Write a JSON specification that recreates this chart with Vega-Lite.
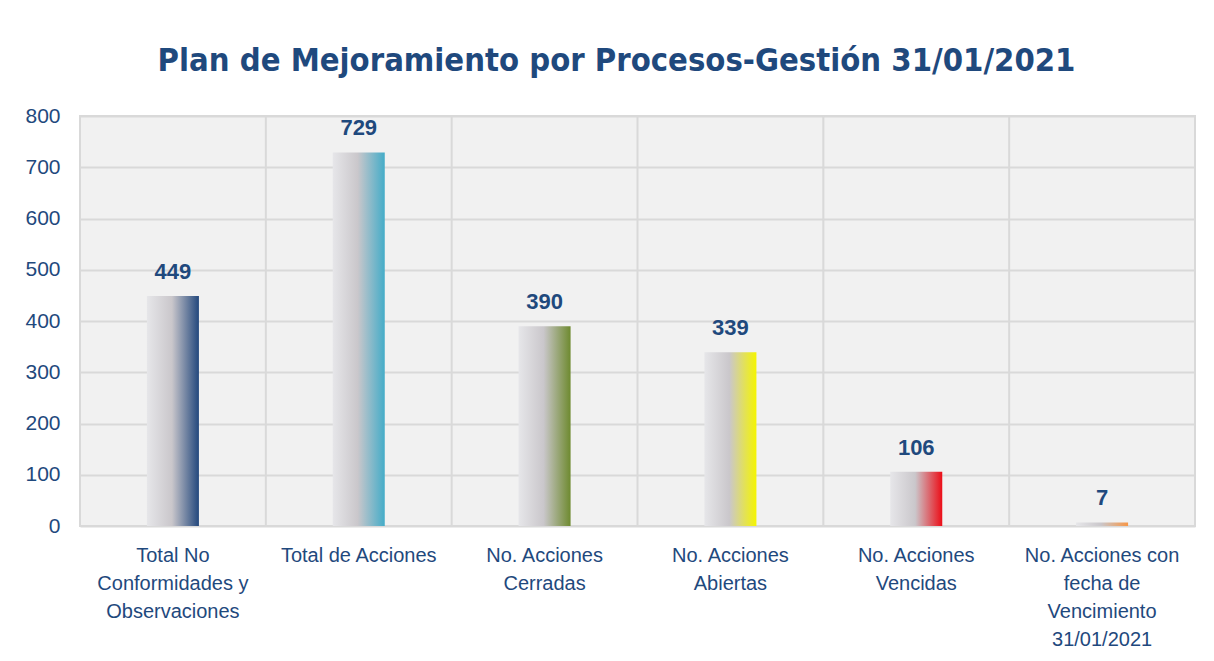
{
  "$schema": "https://vega.github.io/schema/vega-lite/v6.json",
  "width": 1115,
  "height": 410,
  "autosize": {"type": "none"},
  "padding": {"left": 80, "top": 116, "right": 19, "bottom": 135},
  "background": "white",
  "title": {
    "text": "Plan de Mejoramiento por Procesos-Gestión 31/01/2021",
    "font": "DejaVu Sans Condensed, Liberation Sans, sans-serif",
    "fontSize": 32.5,
    "fontWeight": "bold",
    "color": "#1f497d",
    "anchor": "middle",
    "frame": "group",
    "dx": -21,
    "offset": 28
  },
  "config": {
    "view": {"fill": "#f1f1f1", "stroke": "#d9d9d9", "strokeWidth": 2},
    "font": "Liberation Sans"
  },
  "data": {
    "values": [
      {"categoria": "Total No Conformidades y Observaciones", "valor": 449},
      {"categoria": "Total de Acciones", "valor": 729},
      {"categoria": "No. Acciones Cerradas", "valor": 390},
      {"categoria": "No. Acciones Abiertas", "valor": 339},
      {"categoria": "No. Acciones Vencidas", "valor": 106},
      {"categoria": "No. Acciones con fecha de Vencimiento 31/01/2021", "valor": 7}
    ]
  },
  "encoding": {
    "x": {
      "field": "categoria",
      "type": "nominal",
      "sort": null,
      "scale": {"paddingInner": 0, "paddingOuter": 0},
      "axis": {
        "title": null,
        "labelAngle": 0,
        "domain": false,
        "ticks": false,
        "grid": false,
        "labelFont": "Liberation Sans",
        "labelFontSize": 20,
        "labelColor": "#1f497d",
        "labelPadding": 19,
        "labelBaseline": "top",
        "labelLineHeight": 28,
        "labelLimit": 0,
        "labelExpr": "datum.value == 'Total No Conformidades y Observaciones' ? ['Total No', 'Conformidades y', 'Observaciones'] : datum.value == 'No. Acciones Cerradas' ? ['No. Acciones', 'Cerradas'] : datum.value == 'No. Acciones Abiertas' ? ['No. Acciones', 'Abiertas'] : datum.value == 'No. Acciones Vencidas' ? ['No. Acciones', 'Vencidas'] : datum.value == 'No. Acciones con fecha de Vencimiento 31/01/2021' ? ['No. Acciones con', 'fecha de', 'Vencimiento', '31/01/2021'] : datum.value"
      }
    },
    "y": {
      "field": "valor",
      "type": "quantitative",
      "scale": {"domain": [0, 800], "nice": false},
      "axis": {
        "title": null,
        "values": [0, 100, 200, 300, 400, 500, 600, 700, 800],
        "domain": false,
        "ticks": false,
        "tickSize": 0,
        "gridColor": "#d9d9d9",
        "gridWidth": 2,
        "labelFont": "Liberation Sans",
        "labelFontSize": 21,
        "labelColor": "#1f497d",
        "labelPadding": 20
      }
    }
  },
  "layer": [
    {
      "mark": {"type": "rule", "color": "#d9d9d9", "strokeWidth": 2},
      "encoding": {
        "x": {"field": "categoria", "type": "nominal", "sort": null, "bandPosition": 0},
        "y": {"value": 0},
        "y2": {"value": 410}
      }
    },
    {
      "transform": [{"filter": "datum.categoria == 'Total No Conformidades y Observaciones'"}],
      "mark": {"type": "bar", "size": 52, "color": {"gradient": "linear", "x1": 0, "x2": 1, "y1": 0, "y2": 0, "stops": [{"offset": 0, "color": "#e6e6e9"}, {"offset": 0.48, "color": "#cac7cb"}, {"offset": 1, "color": "#23487d"}]}}
    },
    {
      "transform": [{"filter": "datum.categoria == 'Total de Acciones'"}],
      "mark": {"type": "bar", "size": 52, "color": {"gradient": "linear", "x1": 0, "x2": 1, "y1": 0, "y2": 0, "stops": [{"offset": 0, "color": "#e6e6e9"}, {"offset": 0.48, "color": "#cac7cb"}, {"offset": 1, "color": "#44acc8"}]}}
    },
    {
      "transform": [{"filter": "datum.categoria == 'No. Acciones Cerradas'"}],
      "mark": {"type": "bar", "size": 52, "color": {"gradient": "linear", "x1": 0, "x2": 1, "y1": 0, "y2": 0, "stops": [{"offset": 0, "color": "#e6e6e9"}, {"offset": 0.48, "color": "#cac7cb"}, {"offset": 1, "color": "#6e8a2f"}]}}
    },
    {
      "transform": [{"filter": "datum.categoria == 'No. Acciones Abiertas'"}],
      "mark": {"type": "bar", "size": 52, "color": {"gradient": "linear", "x1": 0, "x2": 1, "y1": 0, "y2": 0, "stops": [{"offset": 0, "color": "#e6e6e9"}, {"offset": 0.48, "color": "#cac7cb"}, {"offset": 1, "color": "#f5f500"}]}}
    },
    {
      "transform": [{"filter": "datum.categoria == 'No. Acciones Vencidas'"}],
      "mark": {"type": "bar", "size": 52, "color": {"gradient": "linear", "x1": 0, "x2": 1, "y1": 0, "y2": 0, "stops": [{"offset": 0, "color": "#e6e6e9"}, {"offset": 0.48, "color": "#cac7cb"}, {"offset": 1, "color": "#ec0d17"}]}}
    },
    {
      "transform": [{"filter": "datum.categoria == 'No. Acciones con fecha de Vencimiento 31/01/2021'"}],
      "mark": {"type": "bar", "size": 52, "color": {"gradient": "linear", "x1": 0, "x2": 1, "y1": 0, "y2": 0, "stops": [{"offset": 0, "color": "#e6e6e9"}, {"offset": 0.48, "color": "#cac7cb"}, {"offset": 1, "color": "#f79646"}]}}
    },
    {
      "mark": {"type": "text", "dy": -17, "baseline": "alphabetic", "fontSize": 22, "fontWeight": "bold", "color": "#1f497d", "font": "Liberation Sans"},
      "encoding": {"text": {"field": "valor", "type": "quantitative"}}
    }
  ]
}
